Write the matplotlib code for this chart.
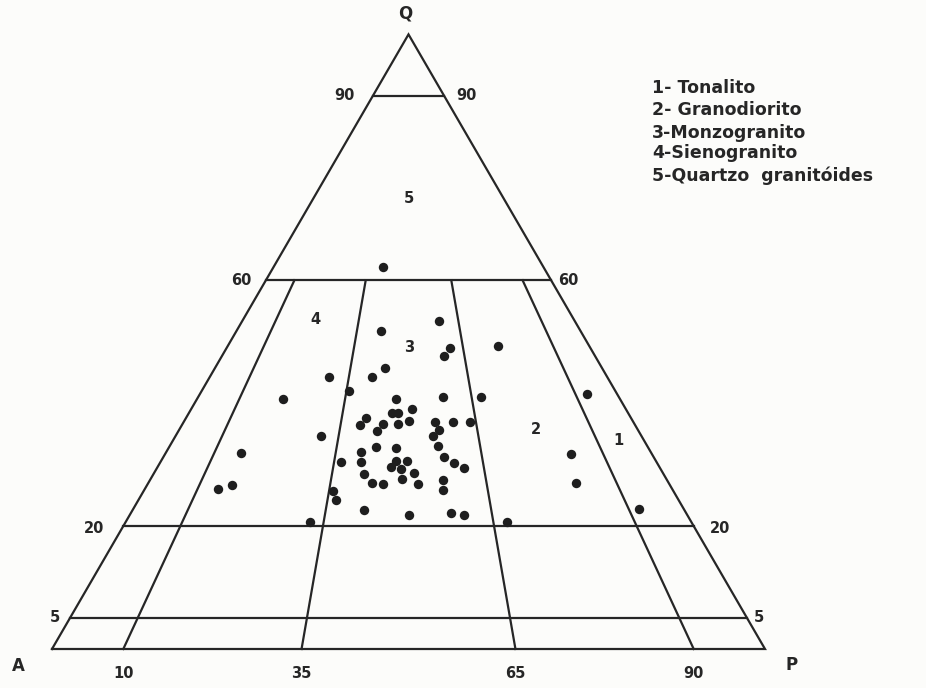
import numpy as np
import matplotlib
matplotlib.use("Agg")
import matplotlib.pyplot as plt

# QAP classification (Streckeisen) - granitoid samples
# Each sample: quartz content Q (%) and plagioclase ratio 100*P/(A+P)
q_pct = [62.2, 53.3, 51.8, 49.0, 47.6, 49.3, 44.3, 44.3, 45.8, 42.0,
         40.7, 40.7, 41.0, 41.0, 38.4, 38.4, 39.1, 37.6, 36.5, 36.6,
         36.6, 37.1, 37.0, 37.0, 37.0, 35.5, 34.7, 35.7, 34.7, 32.9,
         32.7, 33.1, 31.9, 32.1, 30.5, 30.5, 30.6, 30.6, 29.6, 29.3,
         28.7, 31.3, 30.3, 29.5, 28.5, 27.0, 26.9, 27.7, 26.9, 27.5,
         25.9, 26.7, 26.1, 25.7, 24.3, 22.6, 21.8, 22.1, 21.8, 20.7,
         20.7, 41.5, 31.8, 27.0, 22.8]
plag_ratio = [40.6, 59.1, 41.9, 61.3, 59.4, 74.7, 29.9, 40.9, 43.8, 35.5,
              20.4, 47.1, 58.3, 67.3, 46.3, 47.7, 50.9, 40.5, 39.3, 44.4,
              47.7, 50.2, 56.0, 60.0, 63.7, 43.2, 55.3, 56.7, 31.2, 43.2,
              47.4, 56.2, 15.5, 40.2, 36.4, 40.4, 47.5, 49.7, 46.5, 48.5,
              51.1, 57.3, 59.2, 61.0, 41.3, 43.0, 45.1, 48.7, 51.8, 56.7,
              56.5, 16.2, 13.8, 35.7, 36.5, 41.9, 50.1, 57.6, 59.9, 32.5,
              67.5, 92.9, 83.4, 82.2, 91.8]

# Field boundaries
q_levels = [90, 60, 20, 5]
ratio_levels = [10, 35, 65, 90]
ratio_top = 60  # ratio lines stop at this Q value

# Field numbers: (label, Q, ratio)
field_labels = ["5", "4", "3", "2", "1"]
field_q = [73.3, 53.6, 49.0, 35.7, 34.0]
field_r = [50.0, 21.8, 50.3, 77.9, 94.6]

legend_lines = ["1- Tonalito", "2- Granodiorito", "3-Monzogranito",
                "4-Sienogranito", "5-Quartzo  granitóides"]

H = 0.862  # height of the triangle (base = 1)
INK = "#262626"


def tern(q, r):
    """Convert Q % and 100*P/(A+P) to cartesian coordinates."""
    q = np.asarray(q, dtype=float) / 100.0
    r = np.asarray(r, dtype=float) / 100.0
    return 0.5 * q + (1.0 - q) * r, H * q


fig = plt.figure(figsize=(9.26, 6.88), dpi=100, facecolor="#fcfcfa")
ax = fig.add_axes([0, 0, 1, 1])
ax.set_facecolor("#fcfcfa")
ax.set_xlim(-52 / 713, (926 - 52) / 713)
ax.set_ylim(-39 / 713, (688 - 39) / 713)
ax.axis("off")

lw = 1.6
# outer triangle
tx, ty = tern([0, 0, 100, 0], [0, 100, 50, 0])
ax.plot(tx, ty, color=INK, lw=lw, solid_joinstyle="miter")

# horizontal Q lines
for q in q_levels:
    x, y = tern([q, q], [0, 100])
    ax.plot(x, y, color=INK, lw=lw)

# plagioclase-ratio lines
for r in ratio_levels:
    x, y = tern([0, ratio_top], [r, r])
    ax.plot(x, y, color=INK, lw=lw)

# samples
sx, sy = tern(q_pct, plag_ratio)
ax.scatter(sx, sy, s=46, color="#1e1e1e", zorder=3, linewidths=0)

tkw = dict(fontsize=10.5, fontweight="bold", color=INK,
           textcoords="offset pixels", ha="center", va="center")

# vertex labels
for lab, q, r, off in [("Q", 100, 50, (-3, 21)), ("A", 0, 0, (-34, -17)),
                       ("P", 0, 100, (27, -16))]:
    x, y = tern(q, r)
    ax.annotate(lab, (x, y), xytext=off, **{**tkw, "fontsize": 12})

# Q tick labels on both sides
left_off = {90: (-28, 0), 60: (-25, 0), 20: (-29, -2), 5: (-15, 1)}
right_off = {90: (22, 0), 60: (17, 0), 20: (26, -2), 5: (12, 1)}
for q in q_levels:
    x, y = tern(q, 0)
    ax.annotate(str(q), (x, y), xytext=left_off[q], **tkw)
    x, y = tern(q, 100)
    ax.annotate(str(q), (x, y), xytext=right_off[q], **tkw)

# ratio tick labels below base
for r in ratio_levels:
    x, y = tern(0, r)
    ax.annotate(str(r), (x, y), xytext=(0, -24), **tkw)

# field numbers
fx, fy = tern(field_q, field_r)
for lab, x, y in zip(field_labels, fx, fy):
    ax.text(x, y, lab, fontsize=10.5, fontweight="bold", color=INK,
            ha="center", va="center")

# legend text block
legend_y = [88, 110, 133, 153, 176]
for txt, py in zip(legend_lines, legend_y):
    fig.text(652 / 926, 1 - py / 688, txt, fontsize=12.5, fontweight="bold",
             color=INK, ha="left", va="center")

fig.savefig("out.png", dpi=100, facecolor=fig.get_facecolor())
